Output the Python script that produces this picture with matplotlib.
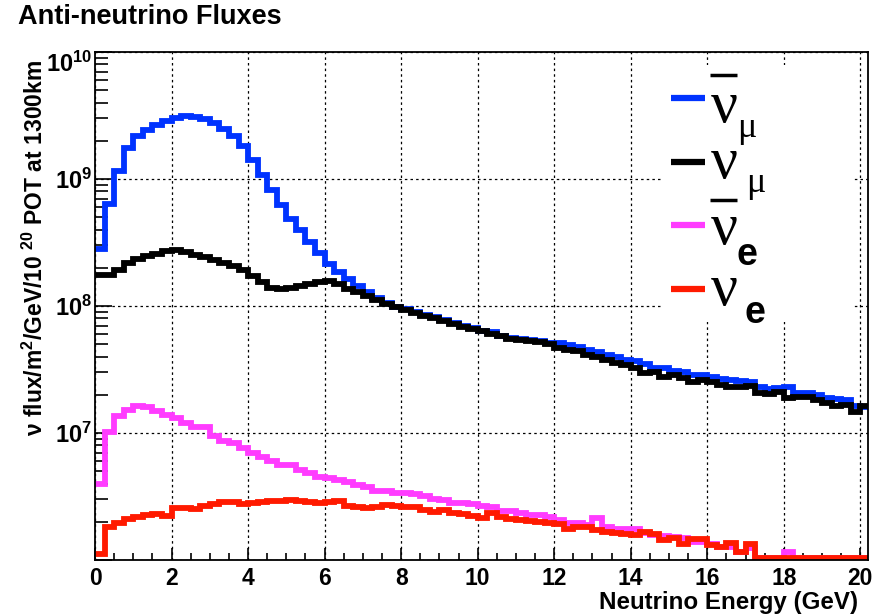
import numpy as np
import matplotlib
matplotlib.use("Agg")
import matplotlib.pyplot as plt
from matplotlib.patches import Rectangle
from matplotlib.ticker import FixedLocator, NullFormatter
from matplotlib.transforms import ScaledTranslation

# ---------------- data (flux per 0.25 GeV bin) ----------------
bin_edges = np.arange(0, 20.26, 0.25)          # 81 bins, 0 -> 20.25 GeV
floor = 1.03e6                                  # empty bins sit on the axis floor

numubar = [2.8e8, 6.4e8, 1.15e9, 1.77e9, 2.19e9, 2.44e9, 2.68e9, 2.88e9, 3.02e9, 3.11e9,
           3.08e9, 2.99e9, 2.76e9, 2.47e9, 2.17e9, 1.81e9, 1.42e9, 1.08e9, 8.15e8, 6.2e8,
           4.87e8, 3.94e8, 3.2e8, 2.6e8, 2.15e8, 1.85e8, 1.62e8, 1.45e8, 1.3e8, 1.16e8,
           1.06e8, 9.9e7, 9.4e7, 8.95e7, 8.55e7, 8.2e7, 7.7e7, 7.3e7, 6.95e7, 6.7e7,
           6.4e7, 6.2e7, 5.85e7, 5.6e7, 5.45e7, 5.4e7, 5.3e7, 5.15e7, 5.1e7, 4.9e7,
           4.75e7, 4.51e7, 4.32e7, 4.11e7, 3.94e7, 3.76e7, 3.72e7, 3.49e7, 3.23e7, 3.23e7,
           3.09e7, 3.04e7, 2.86e7, 2.86e7, 2.74e7, 2.68e7, 2.61e7, 2.57e7, 2.54e7, 2.29e7,
           2.21e7, 2.25e7, 2.29e7, 2.08e7, 2.05e7, 1.99e7, 1.87e7, 1.84e7, 1.82e7, 1.63e7,
           1.61e7]

numu = [1.77e8, 1.77e8, 1.93e8, 2.18e8, 2.34e8, 2.46e8, 2.58e8, 2.69e8, 2.74e8, 2.65e8,
        2.54e8, 2.43e8, 2.32e8, 2.18e8, 2.05e8, 1.91e8, 1.71e8, 1.54e8, 1.39e8, 1.36e8,
        1.39e8, 1.43e8, 1.49e8, 1.54e8, 1.56e8, 1.48e8, 1.37e8, 1.29e8, 1.19e8, 1.11e8,
        1.04e8, 9.8e7, 9.25e7, 8.8e7, 8.4e7, 8.05e7, 7.57e7, 7.18e7, 6.84e7, 6.59e7,
        6.31e7, 5.98e7, 5.77e7, 5.53e7, 5.37e7, 5.27e7, 5.18e7, 4.99e7, 4.7e7, 4.53e7,
        4.4e7, 4.11e7, 3.94e7, 3.76e7, 3.55e7, 3.43e7, 3.23e7, 2.99e7, 3.04e7, 2.74e7,
        2.86e7, 2.69e7, 2.54e7, 2.61e7, 2.54e7, 2.39e7, 2.29e7, 2.29e7, 2.34e7, 2.05e7,
        2.03e7, 2.11e7, 1.87e7, 1.93e7, 1.93e7, 1.82e7, 1.71e7, 1.63e7, 1.66e7, 1.47e7,
        1.63e7]

nuebar = [4.0e6, 1.01e7, 1.37e7, 1.52e7, 1.64e7, 1.61e7, 1.5e7, 1.39e7, 1.31e7, 1.19e7,
          1.12e7, 1.12e7, 9.5e6, 8.6e6, 8.3e6, 7.6e6, 7.0e6, 6.5e6, 6.0e6, 5.6e6,
          5.6e6, 5.1e6, 4.8e6, 4.5e6, 4.4e6, 4.27e6, 4.1e6, 3.92e6, 3.73e6, 3.5e6,
          3.5e6, 3.39e6, 3.35e6, 3.31e6, 3.19e6, 3.0e6, 2.97e6, 2.83e6, 2.83e6, 2.76e6,
          2.66e6, 2.6e6, 2.45e6, 2.45e6, 2.36e6, 2.26e6, 2.26e6, 2.17e6, 2.07e6, 1.97e6,
          1.97e6, 1.89e6, 2.13e6, 1.81e6, 1.74e6, 1.74e6, 1.77e6, 1.62e6, 1.57e6, 1.55e6,
          1.53e6, 1.48e6, 1.39e6, 1.39e6, 1.34e6, 1.26e6, 1.26e6, 1.16e6, 1.24e6, floor,
          floor, floor, 1.16e6, floor, floor, floor, floor, floor, floor, floor,
          floor]

nue = [1.11e6, 1.83e6, 1.94e6, 2.1e6, 2.19e6, 2.27e6, 2.3e6, 2.23e6, 2.56e6, 2.56e6,
       2.52e6, 2.65e6, 2.76e6, 2.88e6, 2.84e6, 2.76e6, 2.79e6, 2.88e6, 2.9e6, 2.93e6,
       2.97e6, 2.93e6, 2.88e6, 2.81e6, 2.88e6, 2.93e6, 2.68e6, 2.6e6, 2.56e6, 2.6e6,
       2.71e6, 2.66e6, 2.63e6, 2.6e6, 2.48e6, 2.4e6, 2.48e6, 2.33e6, 2.3e6, 2.22e6,
       2.13e6, 2.36e6, 2.19e6, 2.09e6, 2.07e6, 2.04e6, 2.0e6, 1.97e6, 1.92e6, 1.77e6,
       1.83e6, 1.81e6, 1.72e6, 1.65e6, 1.62e6, 1.6e6, 1.57e6, 1.67e6, 1.6e6, 1.44e6,
       1.48e6, 1.34e6, 1.46e6, 1.46e6, 1.31e6, 1.27e6, 1.37e6, 1.16e6, 1.34e6, floor,
       floor, floor, floor, floor, floor, floor, floor, floor, floor, floor,
       floor]

# legend entries: nu with optional bar, and its flavour subscript
legend_sub = ['μ', 'μ', 'e', 'e']
legend_bar = [True, False, True, False]
series_colors = ['#0033ff', '#000000', '#ff3cff', '#ff1a00']

x_ticks = list(range(0, 21, 2))
y_ticks = [1e6, 1e7, 1e8, 1e9, 1e10]
y_ticklabels = ['', r'$10^{7}$', r'$10^{8}$', r'$10^{9}$', r'$10^{10}$']

# ---------------- style ----------------
plt.rcParams['font.family'] = ['Liberation Sans', 'DejaVu Sans']
plt.rcParams['font.weight'] = 'bold'
plt.rcParams['mathtext.fontset'] = 'custom'
plt.rcParams['mathtext.rm'] = 'Liberation Sans:bold'
plt.rcParams['mathtext.bf'] = 'Liberation Sans:bold'
plt.rcParams['mathtext.sf'] = 'Liberation Sans:bold'
plt.rcParams['mathtext.it'] = 'Liberation Sans:bold'

W, H = 886, 616
L, R, T, B = 95, 868, 52, 560
fig = plt.figure(figsize=(W / 100, H / 100), dpi=100)
ax = fig.add_axes([L / W, 1 - B / H, (R - L) / W, (B - T) / H])


def px(x, y):
    # pixel position of the picture -> axes fraction
    return (x - L) / (R - L), (B - y) / (B - T)


for vals, col in zip([numubar, numu, nuebar, nue], series_colors):
    ax.stairs(vals, bin_edges, baseline=None, color=col, lw=4.2, zorder=2)

ax.set_yscale('log')
ax.set_xlim(0, 20.2)
ax.set_ylim(1e6, 1e10)

ax.xaxis.set_major_locator(FixedLocator(x_ticks))
ax.xaxis.set_minor_locator(FixedLocator(np.arange(0, 20.3, 0.5)))
ax.set_xticklabels([str(t) for t in x_ticks])
ax.yaxis.set_major_locator(FixedLocator(y_ticks))
ax.set_yticklabels(y_ticklabels)
ax.yaxis.set_minor_locator(FixedLocator([m * 10.0 ** d for d in range(6, 10) for m in range(2, 10)]))
ax.yaxis.set_minor_formatter(NullFormatter())

ax.tick_params(axis='both', which='both', direction='in', top=False, right=False, width=1.2)
ax.tick_params(axis='x', which='major', length=9, pad=5, labelsize=16.5)
ax.tick_params(axis='x', which='minor', length=5)
ax.tick_params(axis='y', which='major', length=12, pad=2, labelsize=17)
ax.tick_params(axis='y', which='minor', length=9)
for s in ax.spines.values():
    s.set_linewidth(1.3)

ax.grid(True, which='major', color='black', ls=(0, (2, 2.5)), lw=0.9)
ax.set_axisbelow(True)

fig.text(18 / W, 1 - 17 / H, 'Anti-neutrino Fluxes', fontsize=19.5,
         fontweight='bold', va='center', ha='left')
ax.set_xlabel('Neutrino Energy (GeV)', fontsize=17.4, fontweight='bold', loc='right')
ax.xaxis.set_label_coords(*px(858, 591))
ax.set_ylabel(r'$\nu$ flux/m$^{2}$/GeV/10 $^{20}$ POT at 1300km', fontsize=16.5,
              fontweight='bold', loc='top')
ax.yaxis.set_label_coords(*px(48, 60))

# ---------------- legend (ROOT TLegend look) ----------------
ax.add_patch(Rectangle(px(663, 322), (853 - 663) / (R - L), (322 - 65) / (B - T),
                       transform=ax.transAxes, facecolor='white', edgecolor='none',
                       zorder=3, clip_on=False))
row_y = [98, 162, 225, 289]           # handle centre of each row
nu_base = [122, 178, 244, 305]        # baseline of the nu glyph
sub_pos = [(737, 137), (746, 192), (737, 265), (745, 323)]
bar_y = [75, None, 200, None]
for i in range(4):
    ax.plot(*zip(px(671, row_y[i]), px(705, row_y[i])), transform=ax.transAxes,
            color=series_colors[i], lw=4.5, solid_capstyle='butt', zorder=4, clip_on=False)
    ax.text(*px(711, nu_base[i]), 'ν', transform=ax.transAxes, family='Liberation Serif',
            fontweight='normal', fontsize=43, ha='left', va='baseline', zorder=4)
    if legend_sub[i] == 'μ':
        ax.text(*px(*sub_pos[i]), 'μ', transform=ax.transAxes, family='Liberation Serif',
                fontweight='normal', fontsize=26, ha='left', va='baseline', zorder=4)
    else:
        ax.text(*px(*sub_pos[i]), 'e', transform=ax.transAxes, family='Liberation Sans',
                fontweight='bold', fontsize=27, ha='left', va='baseline', zorder=4)
    if legend_bar[i]:
        ax.plot(*zip(px(710, bar_y[i]), px(737, bar_y[i])), transform=ax.transAxes,
                color='black', lw=2.5, solid_capstyle='butt', zorder=4, clip_on=False)

# ROOT pushes the top decade label a little below the frame edge
fig.canvas.draw()
top_lab = ax.yaxis.get_majorticklabels()[-1]
top_lab.set_transform(top_lab.get_transform() + ScaledTranslation(0, -7 / 72, fig.dpi_scale_trans))

fig.savefig('out.png', dpi=100)
